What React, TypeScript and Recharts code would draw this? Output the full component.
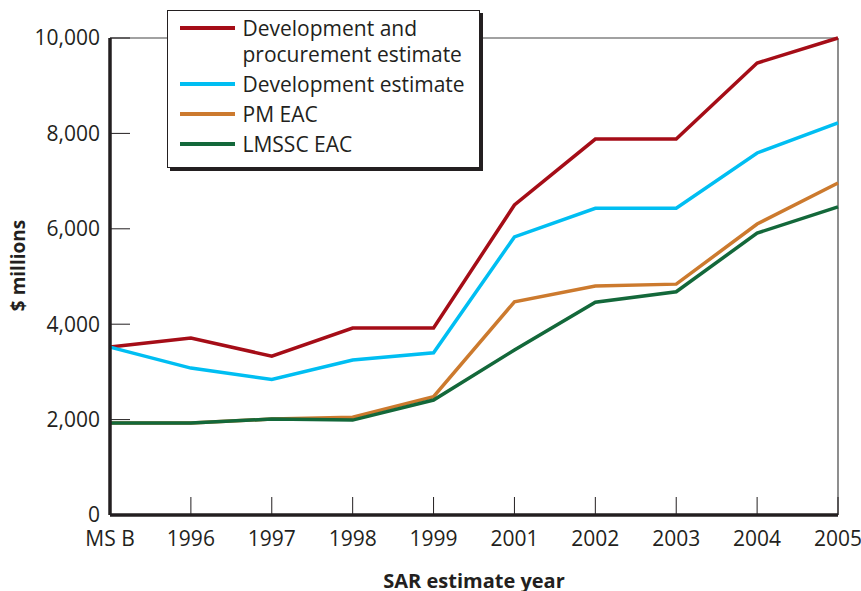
import React from "react";
import { LineChart, Line, XAxis, YAxis, ReferenceLine } from "recharts";

const years = ["MS B", "1996", "1997", "1998", "1999", "2001", "2002", "2003", "2004", "2005"];
const devProcurement = [3520, 3710, 3330, 3920, 3920, 6500, 7880, 7880, 9475, 10000];
const devEstimate = [3520, 3080, 2840, 3250, 3400, 5830, 6430, 6430, 7590, 8220];
const pmEac = [1930, 1930, 2010, 2050, 2480, 4470, 4800, 4840, 6100, 6960];
const lmsscEac = [1930, 1930, 2010, 1990, 2410, 3460, 4460, 4680, 5910, 6460];
const yTicks = [0, 2000, 4000, 6000, 8000, 10000];

const series = [
  { key: "devProcurement", name: "Development and\nprocurement estimate", color: "#a50d17" },
  { key: "devEstimate", name: "Development estimate", color: "#00bef2" },
  { key: "pmEac", name: "PM EAC", color: "#cc7a2e" },
  { key: "lmsscEac", name: "LMSSC EAC", color: "#13683a" },
];

const data = years.map((year, i) => ({
  year,
  devProcurement: devProcurement[i],
  devEstimate: devEstimate[i],
  pmEac: pmEac[i],
  lmsscEac: lmsscEac[i],
}));

const font = "'Open Sans', 'Noto Sans', sans-serif";
const ink = "#231f20";

function LegendBox() {
  return (
    <div
      style={{
        position: "absolute",
        left: 167,
        top: 10,
        width: 311,
        background: "#fff",
        border: `1.5px solid ${ink}`,
        boxShadow: `3px 3px 0 ${ink}`,
        padding: "4px 0 8px 0",
        fontFamily: font,
        fontSize: 21,
        color: ink,
      }}
    >
      {series.map((s, i) => {
        const lines = s.name.split("\n");
        return (
          <div
            key={s.key}
            style={{
              display: "flex",
              alignItems: "flex-start",
              marginTop: i === 1 ? 1.5 : 0,
            }}
          >
            <div
              style={{
                width: 55,
                height: 4,
                background: s.color,
                marginLeft: 11.5,
                marginRight: 8,
                marginTop: lines.length > 1 ? 11 : 13,
                flexShrink: 0,
              }}
            />
            <div style={{ lineHeight: lines.length > 1 ? "26px" : "30px", whiteSpace: "nowrap" }}>
              {lines.map((l) => (
                <div key={l}>{l}</div>
              ))}
            </div>
          </div>
        );
      })}
    </div>
  );
}

export default function App() {
  return (
    <div style={{ position: "absolute", left: 0, top: 0, width: 861, height: 591, background: "#fff", overflow: "hidden" }}>
      <LineChart width={861} height={591} data={data} margin={{ top: 38, right: 23, left: 0, bottom: 0 }}>
        <XAxis
          dataKey="year"
          scale="point"
          padding={{ left: 0, right: 0 }}
          height={76}
          interval={0}
          axisLine={{ stroke: ink, strokeWidth: 3.5 }}
          tickLine={{ stroke: ink, strokeWidth: 1 }}
          tickSize={-18}
          tickMargin={34}
          tick={{ fill: ink, fontSize: 21, fontFamily: font }}
          label={{
            value: "SAR estimate year",
            position: "insideBottom",
            offset: 3,
            style: { fill: ink, fontSize: 20, fontWeight: 700, fontFamily: font },
          }}
        />
        <YAxis
          width={110}
          domain={[0, 10000]}
          ticks={yTicks}
          interval={0}
          tickFormatter={(v: number) => v.toLocaleString("en-US")}
          axisLine={{ stroke: ink, strokeWidth: 3.5 }}
          tickLine={{ stroke: ink, strokeWidth: 1 }}
          tickSize={-20}
          tickMargin={30}
          tick={{ fill: ink, fontSize: 21, fontFamily: font }}
          label={{
            value: "$ millions",
            angle: -90,
            position: "center",
            dx: -37,
            dy: -11,
            style: { fill: ink, fontSize: 19, fontWeight: 700, fontFamily: font },
          }}
        />
        <ReferenceLine y={10000} stroke="#444" strokeWidth={1.2} />
        <ReferenceLine x="2005" stroke="#444" strokeWidth={1.2} />
        {series.map((s) => (
          <Line
            key={s.key}
            dataKey={s.key}
            name={s.name}
            type="linear"
            stroke={s.color}
            strokeWidth={3.5}
            dot={false}
            activeDot={false}
            isAnimationActive={false}
          />
        ))}
      </LineChart>
      <LegendBox />
    </div>
  );
}
